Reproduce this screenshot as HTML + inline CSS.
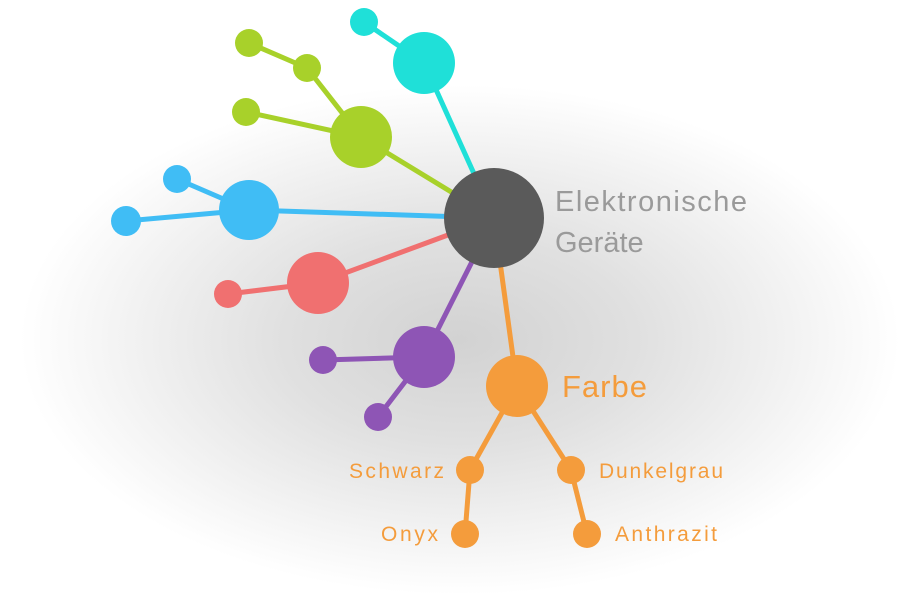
<!DOCTYPE html>
<html><head><meta charset="utf-8"><style>
html,body{margin:0;padding:0;background:#fff;}
svg{display:block;}
text{font-family:"Liberation Sans",sans-serif;}
</style></head><body>
<svg width="900" height="600" viewBox="0 0 900 600" xmlns="http://www.w3.org/2000/svg">
<defs>
<radialGradient id="sh" cx="460" cy="340" r="440" gradientUnits="userSpaceOnUse" gradientTransform="translate(460 340) scale(1 0.58) translate(-460 -340)">
<stop offset="0" stop-color="#d2d2d2"/>
<stop offset="0.4" stop-color="#e0e0e0"/>
<stop offset="0.75" stop-color="#f2f2f2"/>
<stop offset="1" stop-color="#ffffff"/>
</radialGradient>
</defs>
<rect width="900" height="600" fill="#fff"/>
<ellipse cx="460" cy="340" rx="440" ry="256" fill="url(#sh)"/>
<g stroke-width="5" stroke-linecap="round" fill="none">
<g stroke="#1fe0d8"><line x1="494" y1="218" x2="424" y2="63"/><line x1="424" y1="63" x2="364" y2="22"/></g>
<g stroke="#a8d12a"><line x1="494" y1="218" x2="361" y2="137"/><line x1="361" y1="137" x2="307" y2="68"/><line x1="307" y1="68" x2="249" y2="43"/><line x1="361" y1="137" x2="246" y2="112"/></g>
<g stroke="#40bdf5"><line x1="494" y1="218" x2="249" y2="210"/><line x1="249" y1="210" x2="177" y2="179"/><line x1="249" y1="210" x2="126" y2="221"/></g>
<g stroke="#f07070"><line x1="494" y1="218" x2="318" y2="283"/><line x1="318" y1="283" x2="228" y2="294"/></g>
<g stroke="#8e55b5"><line x1="494" y1="218" x2="424" y2="357"/><line x1="424" y1="357" x2="323" y2="360"/><line x1="424" y1="357" x2="378" y2="417"/></g>
<g stroke="#f49c3c"><line x1="494" y1="218" x2="517" y2="386"/><line x1="517" y1="386" x2="470" y2="470"/><line x1="517" y1="386" x2="571" y2="470"/><line x1="470" y1="470" x2="465" y2="534"/><line x1="571" y1="470" x2="587" y2="534"/></g>
</g>
<g fill="#1fe0d8"><circle cx="424" cy="63" r="31"/><circle cx="364" cy="22" r="14"/></g>
<g fill="#a8d12a"><circle cx="361" cy="137" r="31"/><circle cx="307" cy="68" r="14"/><circle cx="249" cy="43" r="14"/><circle cx="246" cy="112" r="14"/></g>
<g fill="#40bdf5"><circle cx="249" cy="210" r="30"/><circle cx="177" cy="179" r="14"/><circle cx="126" cy="221" r="15"/></g>
<g fill="#f07070"><circle cx="318" cy="283" r="31"/><circle cx="228" cy="294" r="14"/></g>
<g fill="#8e55b5"><circle cx="424" cy="357" r="31"/><circle cx="323" cy="360" r="14"/><circle cx="378" cy="417" r="14"/></g>
<g fill="#f49c3c"><circle cx="517" cy="386" r="31"/><circle cx="470" cy="470" r="14"/><circle cx="571" cy="470" r="14"/><circle cx="465" cy="534" r="14"/><circle cx="587" cy="534" r="14"/></g>
<circle cx="494" cy="218" r="50" fill="#5a5a5a"/>
<text x="555" y="211" font-size="29" fill="#9a9a9a" textLength="192">Elektronische</text>
<text x="555" y="252" font-size="29" fill="#9a9a9a">Geräte</text>
<text x="562" y="397" font-size="31" fill="#f49c3c" textLength="85">Farbe</text>
<g font-size="21" fill="#f49c3c">
<text x="349" y="478" textLength="95">Schwarz</text>
<text x="599" y="478" textLength="124">Dunkelgrau</text>
<text x="381" y="541" textLength="57">Onyx</text>
<text x="615" y="541" textLength="102">Anthrazit</text>
</g>
</svg>
</body></html>
